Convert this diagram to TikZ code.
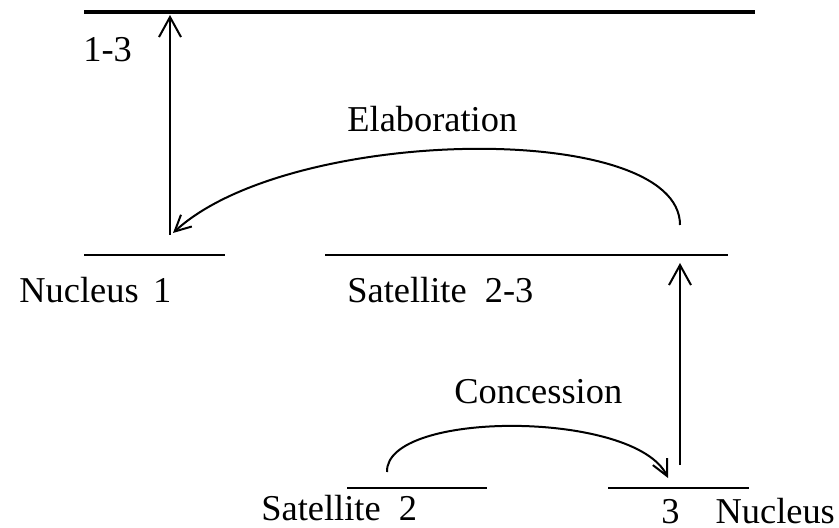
\documentclass[tikz,border=0pt]{standalone}
\usepackage{fontspec}
\setmainfont{Liberation Serif}
\usetikzlibrary{arrows.meta}

\begin{document}
\begin{tikzpicture}[
  x=0.5pt, y=-0.5pt,
  font=\fontsize{18.2}{22}\selectfont,
  root/.style={draw=black, line width=2pt},
  span/.style={draw=black, line width=1.4pt},
  tag/.style={anchor=base west, inner sep=0pt},
  link/.style={-{Straight Barb[length=10pt, width=11pt]}, draw=black, line width=1pt},
  relation/.style={-{Straight Barb[length=8pt, width=8pt]}, draw=black, line width=1pt}
]
\useasboundingbox (0,0) rectangle (839,528);

% level lines
\coordinate (root-west) at (84,12);
\coordinate (root-east) at (755,12);
\coordinate (nucleus1-west) at (84,255);
\coordinate (nucleus1-east) at (225,255);
\coordinate (satellite23-west) at (325,255);
\coordinate (satellite23-east) at (728,255);
\coordinate (satellite2-west) at (347,488);
\coordinate (satellite2-east) at (487,488);
\coordinate (nucleus3-west) at (608,488);
\coordinate (nucleus3-east) at (749,488);

\draw[root] (root-west) -- (root-east);
\draw[span] (nucleus1-west) -- (nucleus1-east);
\draw[span] (satellite23-west) -- (satellite23-east);
\draw[span] (satellite2-west) -- (satellite2-east);
\draw[span] (nucleus3-west) -- (nucleus3-east);

% labels
\node[tag] (root-label) at (83,62) {1-3};
\node[tag] (nucleus1-label) at (19,303) {Nucleus\hspace{0.4em}1};
\node[tag] (satellite23-label) at (347,303) {Satellite\ \ 2-3};
\node[tag] (satellite2-label) at (261,520) {Satellite\ \ 2};
\node[tag] (nucleus3-label) at (661,523) {3\hspace{18pt}Nucleus};
\node[tag] (elaboration) at (347,132) {Elaboration};
\node[tag] (concession) at (454,403) {Concession};

% arrows
\coordinate (nucleus1-up) at (170,235);
\coordinate (root-down) at (170,15);
\coordinate (satellite23-up) at (680,465);
\coordinate (satellite23-down) at (680,263);
\draw[link] (nucleus1-up) -- (root-down);
\draw[link] (satellite23-up) -- (satellite23-down);

\coordinate (elab-from) at (680,225);
\coordinate (elab-to) at (173,233);
\draw[relation] (elab-from) .. controls (680,120) and (290,125) .. (elab-to);

\coordinate (conc-from) at (387,472);
\coordinate (conc-to) at (668,478);
\draw[relation] (conc-from) .. controls (385,410) and (635,410) .. (conc-to);
\end{tikzpicture}
\end{document}
